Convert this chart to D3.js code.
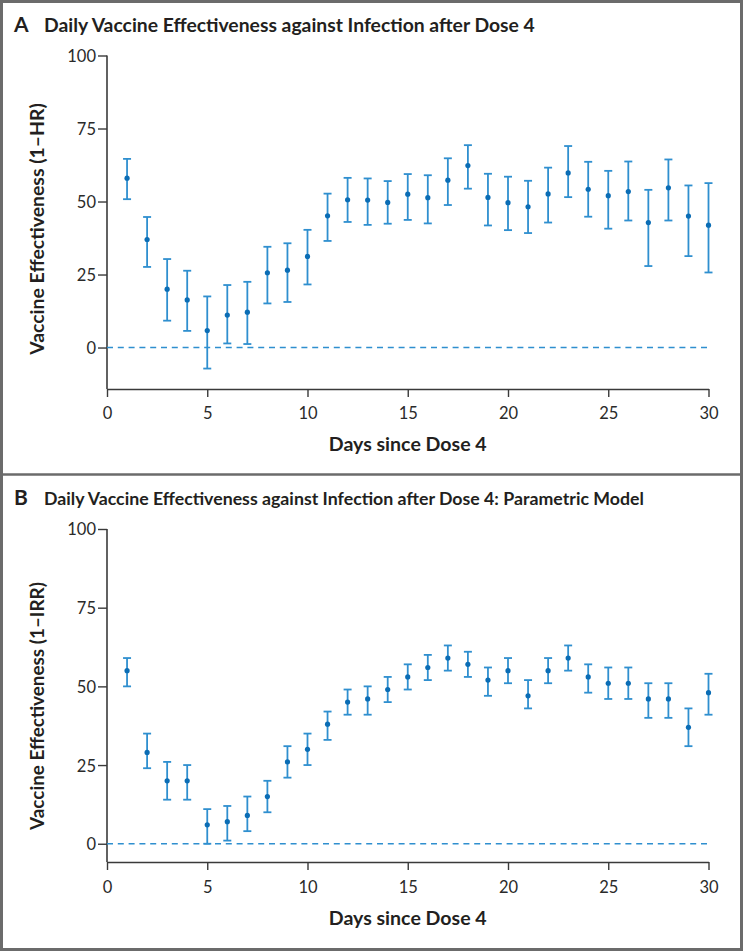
<!DOCTYPE html>
<html><head><meta charset="utf-8">
<script src="https://cdn.jsdelivr.net/npm/d3@7"></script>
<style>
html,body{margin:0;padding:0;background:#fff;}
svg{display:block;}
</style></head><body>
<script>
// ---------- DATA ----------
const days = [1,2,3,4,5,6,7,8,9,10,11,12,13,14,15,16,17,18,19,20,21,22,23,24,25,26,27,28,29,30];

// Panel A: hazard-ratio based VE (point, lower CI, upper CI)
const veA = [58,37,20,16.3,5.8,11.1,12.1,25.6,26.5,31.2,45.1,50.6,50.5,49.7,52.5,51.3,57.3,62.3,51.4,49.6,48.2,52.6,59.8,54.2,52,53.4,42.8,54.7,45,41.9];
const loA = [50.8,27.6,9.2,5.7,-7.2,1.4,1.2,15.1,15.6,21.6,36.5,43,42,42.4,43.7,42.5,48.8,54.4,41.8,40.2,39.2,42.8,51.5,44.8,40.7,43.5,27.9,43.5,31.3,25.7];
const hiA = [64.6,44.7,30.3,26.3,17.5,21.4,22.5,34.5,35.7,40.3,52.7,58.1,57.9,57,59.4,59,64.8,69.3,59.5,58.5,57.1,61.6,69,63.6,60.5,63.7,54,64.4,55.5,56.3];

// Panel B: parametric model VE (point, lower CI, upper CI)
const veB = [55,29,20,20,6,7,9,15,26,30,38,45,46,49,53,56,59,57,52,55,47,55,59,53,51,51,46,46,37,48];
const loB = [50,24,14,14,0,1,4,10,21,25,33,41,41,45,49,52,55,53,47,51,43,51,55,48,46,46,40,40,31,41];
const hiB = [59,35,26,25,11,12,15,20,31,35,42,49,50,53,57,60,63,61,56,59,52,59,63,57,56,56,51,51,43,54];

const xTicks = [0,5,10,15,20,25,30];
const yTicks = [0,25,50,75,100];

const titleA = "Daily Vaccine Effectiveness against Infection after Dose 4";
const titleB = "Daily Vaccine Effectiveness against Infection after Dose 4: Parametric Model";
const yLabelA = "Vaccine Effectiveness (1\u2013HR)";
const yLabelB = "Vaccine Effectiveness (1\u2013IRR)";
const xLabel = "Days since Dose 4";

// ---------- LAYOUT ----------
const W = 743, H = 951;
const FONT = "Lato, 'Open Sans', 'DejaVu Sans', sans-serif";
const INK = "#231f20";
const BAR = "#2f8fcf";
const DOT = "#0b6db5";

const svg = d3.select("body").append("svg").attr("width", W).attr("height", H);
svg.append("rect").attr("width", W).attr("height", H).attr("fill", "#fff");

function fitText(sel, target) {
  const w = sel.node().getComputedTextLength();
  const fs = parseFloat(sel.attr("font-size"));
  if (w > 0) sel.attr("font-size", (fs * target / w).toFixed(2));
}

const panels = [
  {letter:"A", title:titleA, titleW:491, ylab:yLabelA, ve:veA, lo:loA, hi:hiA,
   titleY:32, yMin:-14.2, yTop:55.5, yBot:389, ylabY:229, tickLabY:415, xlabY:451},
  {letter:"B", title:titleB, titleW:600, ylab:yLabelB, ve:veB, lo:loB, hi:hiB,
   titleY:505, yMin:-5.8, yTop:529, yBot:862, ylabY:706, tickLabY:889, xlabY:925}
];

const xLeft = 107, xRight = 708.5;

panels.forEach((p, i) => {
  const g = svg.append("g");
  const x = d3.scaleLinear().domain([0, 30]).range([xLeft, xRight]);
  const y = d3.scaleLinear().domain([p.yMin, 100]).range([p.yBot, p.yTop]);

  // Title
  g.append("text").attr("x", 14).attr("y", p.titleY)
    .attr("font-family", FONT).attr("font-size", 21).attr("font-weight", 700)
    .attr("fill", INK).text(p.letter);
  const t = g.append("text").attr("x", 44).attr("y", p.titleY)
    .attr("font-family", FONT).attr("font-size", 17).attr("font-weight", 700)
    .attr("fill", INK).text(p.title);
  fitText(t, p.titleW);

  // Y axis
  const yAxis = d3.axisLeft(y).tickValues(yTicks).tickSize(9).tickSizeOuter(0).tickPadding(2);
  const ya = g.append("g").attr("transform", `translate(${xLeft},0)`).call(yAxis);
  ya.select(".domain").attr("d", `M0,${p.yTop}V${p.yBot}`);
  // X axis
  const xAxis = d3.axisBottom(x).tickValues(xTicks).tickSize(8).tickSizeOuter(0).tickPadding(6);
  const xa = g.append("g").attr("transform", `translate(0,${p.yBot})`).call(xAxis);

  [ya, xa].forEach(a => {
    a.select(".domain").attr("stroke", "#3a3a3a").attr("stroke-width", 1.6);
    a.selectAll(".tick line").attr("stroke", "#3a3a3a").attr("stroke-width", 1.4);
    a.selectAll(".tick text").attr("font-family", FONT).attr("font-size", 16.5)
      .attr("font-weight", 400).attr("fill", "#2a2a2a");
  });
  ya.selectAll(".tick text").attr("dy", "0.36em");
  xa.selectAll(".tick text").attr("y", null).attr("dy", null)
    .attr("transform", `translate(0,${p.tickLabY - p.yBot})`).attr("dominant-baseline", "middle");

  // reference line at 0
  g.append("line").attr("x1", x(0)).attr("x2", x(30)).attr("y1", y(0)).attr("y2", y(0))
    .attr("stroke", BAR).attr("stroke-width", 1.6).attr("stroke-dasharray", "6,4.8");

  // error bars
  const rows = days.map((d, k) => ({d, v:p.ve[k], lo:p.lo[k], hi:p.hi[k]}));
  const eb = g.append("g").attr("stroke", BAR).attr("stroke-width", 1.8).attr("fill", "none");
  eb.selectAll("line.v").data(rows).join("line").attr("class","v")
    .attr("x1", r => x(r.d)).attr("x2", r => x(r.d)).attr("y1", r => y(r.lo)).attr("y2", r => y(r.hi));
  eb.selectAll("line.cl").data(rows).join("line").attr("class","cl")
    .attr("x1", r => x(r.d) - 4).attr("x2", r => x(r.d) + 4).attr("y1", r => y(r.lo)).attr("y2", r => y(r.lo));
  eb.selectAll("line.ch").data(rows).join("line").attr("class","ch")
    .attr("x1", r => x(r.d) - 4).attr("x2", r => x(r.d) + 4).attr("y1", r => y(r.hi)).attr("y2", r => y(r.hi));
  g.append("g").selectAll("circle").data(rows).join("circle")
    .attr("cx", r => x(r.d)).attr("cy", r => y(r.v)).attr("r", 2.6).attr("fill", DOT);

  // axis titles
  const yl = g.append("text").attr("transform", `translate(44,${p.ylabY}) rotate(-90)`)
    .attr("text-anchor", "middle").attr("font-family", FONT).attr("font-size", 18)
    .attr("font-weight", 700).attr("fill", INK).text(p.ylab);
  fitText(yl, i === 0 ? 252 : 248);
  const xl = g.append("text").attr("x", (xLeft + xRight) / 2).attr("y", p.xlabY)
    .attr("text-anchor", "middle").attr("font-family", FONT).attr("font-size", 18)
    .attr("font-weight", 700).attr("fill", INK).text(xLabel);
  fitText(xl, 158);
});

// frame and divider
svg.append("rect").attr("x", 1.5).attr("y", 1.5).attr("width", W - 3).attr("height", H - 3)
  .attr("fill", "none").attr("stroke", "#6b6b6b").attr("stroke-width", 3);
svg.append("line").attr("x1", 0).attr("x2", W).attr("y1", 474.5).attr("y2", 474.5)
  .attr("stroke", "#6b6b6b").attr("stroke-width", 2.5);
</script>
</body></html>
